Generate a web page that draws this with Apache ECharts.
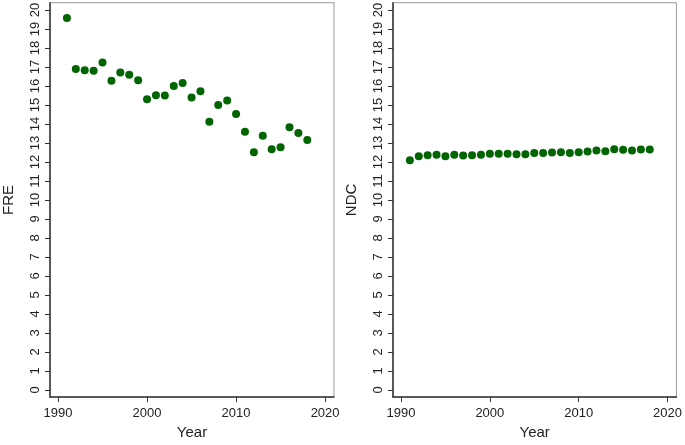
<!DOCTYPE html>
<html>
<head>
<meta charset="utf-8">
<script src="https://cdn.jsdelivr.net/npm/echarts@6/dist/echarts.min.js"></script>
<style>
  html, body { margin: 0; padding: 0; background: #fff; }
  #main { width: 685px; height: 445px; }
</style>
</head>
<body>
<div id="main"></div>
<script>
// data
var years = [1991, 1992, 1993, 1994, 1995, 1996, 1997, 1998, 1999, 2000,
  2001, 2002, 2003, 2004, 2005, 2006, 2007, 2008, 2009, 2010,
  2011, 2012, 2013, 2014, 2015, 2016, 2017, 2018];
var fre = [19.59, 16.90, 16.83, 16.81, 17.24, 16.28, 16.72, 16.60, 16.31, 15.31,
  15.52, 15.50, 16.00, 16.16, 15.40, 15.72, 14.12, 15.00, 15.24, 14.53,
  13.60, 12.52, 13.38, 12.67, 12.78, 13.83, 13.53, 13.16];
var ndc = [12.09, 12.31, 12.36, 12.38, 12.31, 12.38, 12.34, 12.36, 12.38, 12.43,
  12.43, 12.43, 12.41, 12.41, 12.47, 12.47, 12.50, 12.52, 12.47, 12.52,
  12.55, 12.60, 12.57, 12.67, 12.64, 12.60, 12.66, 12.66];
var xTicks = [1990, 2000, 2010, 2020];
var yTicks = [0, 1, 2, 3, 4, 5, 6, 7, 8, 9, 10, 11, 12, 13, 14, 15, 16, 17, 18, 19, 20];

var chart = echarts.init(document.getElementById('main'), null, { renderer: 'canvas' });

var font = 'Liberation Sans, Arial, sans-serif';
var green = '#006400';

function pairs(xs, ys) {
  var out = [];
  for (var i = 0; i < xs.length; i++) out.push([xs[i], ys[i]]);
  return out;
}

function xAxisFor(idx) {
  return {
    type: 'value',
    gridIndex: idx,
    min: 1989.1,
    max: 2021,
    name: 'Year',
    nameLocation: 'middle',
    nameGap: 27,
    nameTextStyle: { fontFamily: font, fontSize: 15, color: '#222' },
    splitLine: { show: false },
    axisLine: { show: true, onZero: false, lineStyle: { color: '#333', width: 1.5 } },
    axisTick: { show: true, length: 5, customValues: xTicks, lineStyle: { color: '#333' } },
    axisLabel: {
      customValues: xTicks, margin: 10, fontFamily: font, fontSize: 13, color: '#222',
      formatter: function (v) { return String(v); }
    }
  };
}

function yAxisFor(idx, name) {
  return {
    type: 'value',
    gridIndex: idx,
    min: -0.38,
    max: 20.39,
    name: name,
    nameLocation: 'middle',
    nameGap: 34,
    nameTextStyle: { fontFamily: font, fontSize: 15, color: '#222' },
    splitLine: { show: false },
    axisLine: { show: true, onZero: false, lineStyle: { color: '#333', width: 1.5 } },
    axisTick: { show: true, length: 5, customValues: yTicks, lineStyle: { color: '#333' } },
    axisLabel: { customValues: yTicks, rotate: 90, margin: 8, fontFamily: font, fontSize: 13, color: '#222' }
  };
}

var option = {
  animation: false,
  backgroundColor: '#fff',
  grid: [
    { left: 49, width: 285, top: 2, height: 402, show: true, borderColor: '#999', borderWidth: 1 },
    { left: 393, width: 285, top: 2, height: 402, show: true, borderColor: '#999', borderWidth: 1 }
  ],
  xAxis: [xAxisFor(0), xAxisFor(1)],
  yAxis: [yAxisFor(0, 'FRE'), yAxisFor(1, 'NDC')],
  series: [
    {
      type: 'scatter', xAxisIndex: 0, yAxisIndex: 0,
      symbolSize: 8, itemStyle: { color: green, opacity: 1 },
      data: pairs(years, fre)
    },
    {
      type: 'scatter', xAxisIndex: 1, yAxisIndex: 1,
      symbolSize: 8, itemStyle: { color: green, opacity: 1 },
      data: pairs(years, ndc)
    }
  ]
};

chart.setOption(option);
</script>
</body>
</html>
